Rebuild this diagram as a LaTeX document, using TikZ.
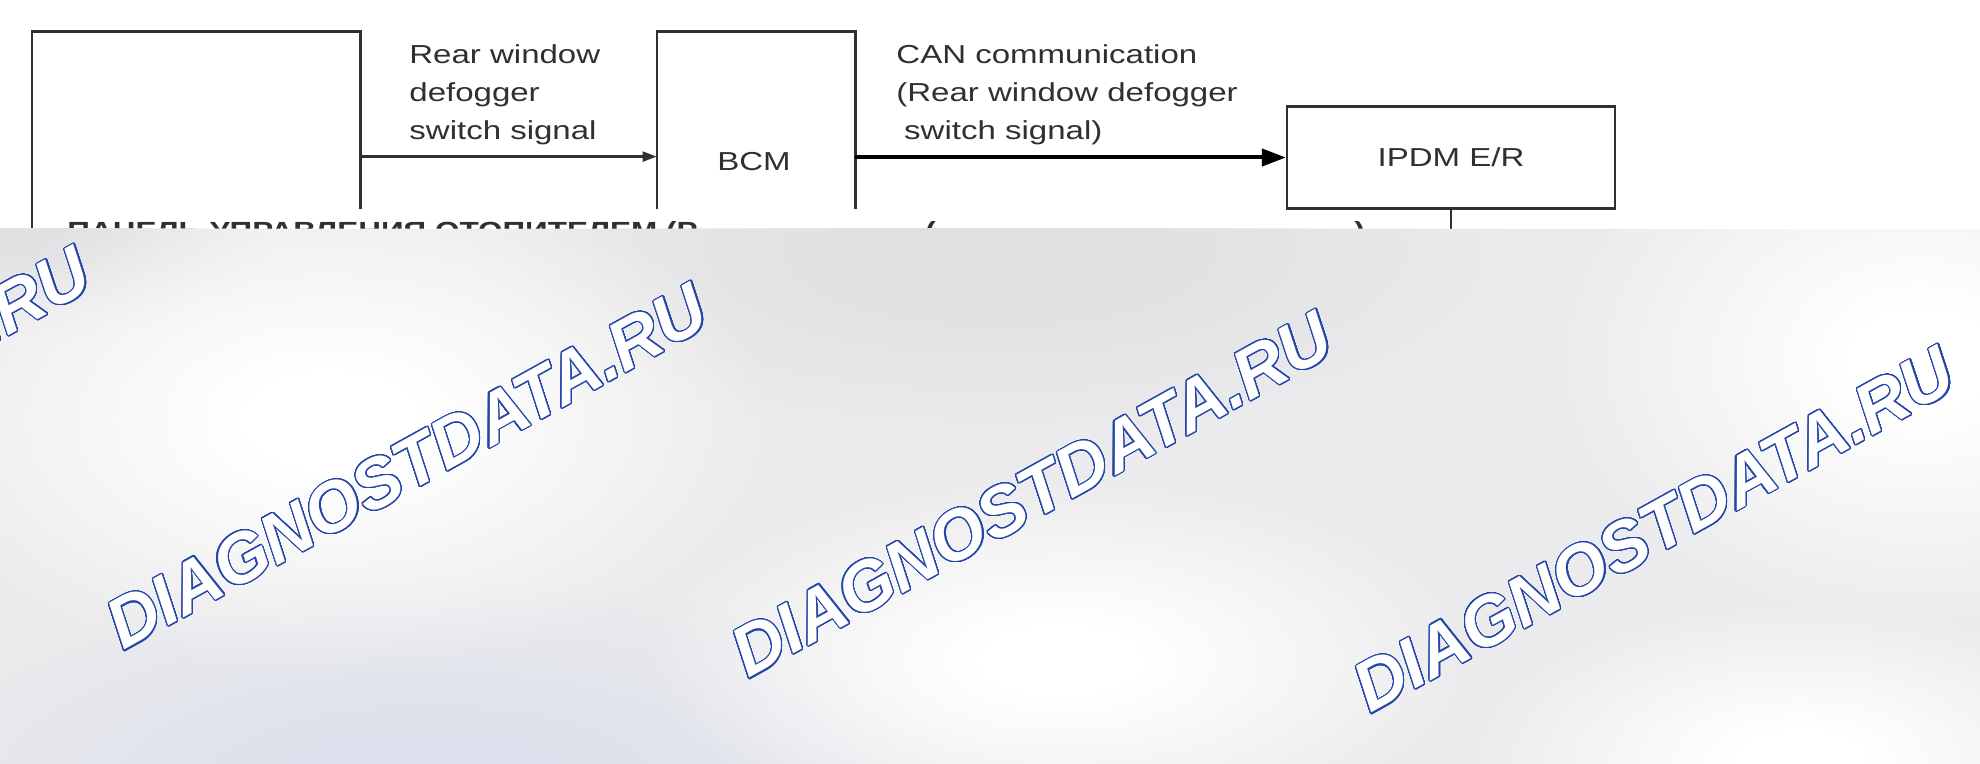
\documentclass[tikz,border=0pt]{standalone}
\usepackage{fontspec}
\usepackage{contour}
\usetikzlibrary{arrows.meta,fadings}
\newfontfamily\labfont[FakeStretch=1.27]{Liberation Sans}
\newfontfamily\wmfont{Liberation Sans}
\definecolor{ln}{HTML}{303030}
\definecolor{wmblue}{HTML}{2446A8}
\definecolor{ovbase}{HTML}{EBEBED}
\definecolor{ovdark}{HTML}{E0E0E2}
\definecolor{ovblue}{HTML}{DCE0EC}
\pgfdeclareradialshading{fadeshade}{\pgfpointorigin}{color(0bp)=(white); color(4bp)=(white); color(20bp)=(black); color(50bp)=(black)}
\pgfdeclarefading{softfade}{\pgfuseshading{fadeshade}}
\contourlength{0.55pt}
\contournumber{48}
\begin{document}
\begin{tikzpicture}[x=0.5pt,y=-0.5pt,
  lbl/.style={font=\labfont\fontsize{13}{19}\selectfont, text=ln, inner sep=0pt},
  rowtxt/.style={font=\labfont\bfseries\fontsize{12.4}{14}\selectfont, text=ln, inner sep=0pt},
  edgeline/.style={draw=ln, line width=1.1pt},
  sig/.style={draw=ln, line width=1.1pt, -{Triangle[length=7pt,width=5pt]}},
  can/.style={draw=black, line width=2pt, -{Triangle[length=12pt,width=8.5pt]}},
  frame/.style={inner sep=0pt, draw=none},
  blob/.style={fill=#1, path fading=softfade},
  wm/.style={rotate=29, inner sep=0pt, text=white,
    font=\wmfont\bfseries\itshape\fontsize{35}{40}\selectfont}]
\useasboundingbox (0,0) rectangle (1980,764);
\fill[white] (0,0) rectangle (1980,764);

% ---- diagram ----
\node[frame, minimum width=164pt, minimum height=88.5pt] (lft) at (196,120.5) {};
\draw[edgeline] (lft.south west) ++(0,22) -- (lft.north west) -- (lft.north east) -- (lft.south east);
\node[frame, minimum width=99pt, minimum height=88.5pt] (bcmbox) at (756,120.5) {};
\draw[edgeline] (bcmbox.south west) -- (bcmbox.north west) -- (bcmbox.north east) -- (bcmbox.south east);
\node[lbl] (bcm) at (754,162) {BCM};
\node[lbl, draw=ln, line width=1.1pt, minimum width=164pt, minimum height=51pt] (ipdm) at (1451,157.5) {IPDM E/R};
\draw[edgeline] (ipdm.south) -- ++(0,24);

\draw[sig] (lft.north east) ++(0,125) coordinate (a1) -- (a1 -| bcmbox.west);
\draw[can] (bcmbox.east |- ipdm.west) -- (ipdm.west);

\node[lbl, anchor=north west, align=left] (l1) at (409,44) {Rear window\\defogger\\switch signal};
\node[lbl, anchor=north west, align=left] (l2) at (896,44) {CAN communication\\(Rear window defogger\\\hspace{0.3em}switch signal)};

\node[rowtxt, anchor=base west] (row1) at (67,240) {ПАНЕЛЬ УПРАВЛЕНИЯ ОТОПИТЕЛЕМ (Р};
\node[rowtxt, anchor=base west] (row2) at (925,240) {(};
\node[rowtxt, anchor=base west] (row3) at (1354,240) {)};

% ---- overlay ----
\begin{scope}
\clip (0,229) rectangle (1980,764);
\fill[ovbase] (0,229) rectangle (1980,764);
\path[blob=ovdark] (1000,250) ellipse [x radius=650, y radius=230];
\path[blob=ovdark] (60,240) ellipse [x radius=260, y radius=120];
\path[blob=ovblue] (430,790) ellipse [x radius=700, y radius=260];
\path[blob=white] (330,420) ellipse [x radius=560, y radius=320];
\path[blob=white] (1060,660) ellipse [x radius=520, y radius=230];
\path[blob=white] (1920,360) ellipse [x radius=460, y radius=340];
\path[blob=white] (1800,760) ellipse [x radius=420, y radius=200];
\end{scope}

% ---- watermarks ----
\node[wm] (wm1) at (-210,430) {\contour{wmblue}{DIAGNOSTDATA.RU}};
\node[wm] (wm2) at (407,467) {\contour{wmblue}{DIAGNOSTDATA.RU}};
\node[wm] (wm3) at (1032,495) {\contour{wmblue}{DIAGNOSTDATA.RU}};
\node[wm] (wm4) at (1654,530) {\contour{wmblue}{DIAGNOSTDATA.RU}};
\node[wm] (wm5) at (2280,560) {\contour{wmblue}{DIAGNOSTDATA.RU}};
\end{tikzpicture}
\end{document}
